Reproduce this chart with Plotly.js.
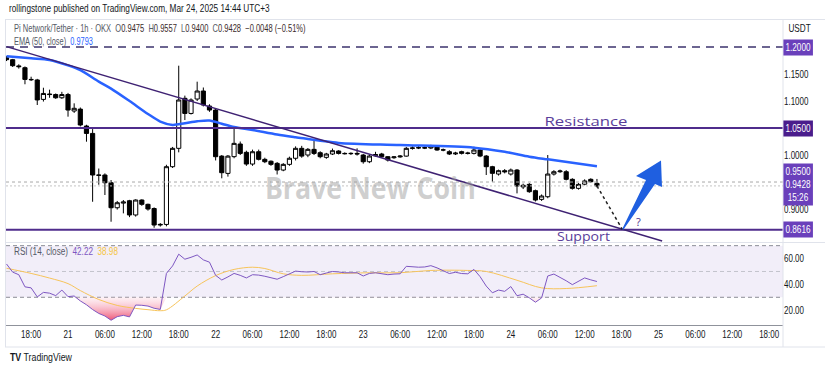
<!DOCTYPE html>
<html><head><meta charset="utf-8">
<script src="https://cdn.plot.ly/plotly-3.0.1.min.js"></script>
<style>html,body{margin:0;padding:0;background:#fff;}#chart{width:825px;height:370px;}</style>
</head><body><div id="chart"></div>
<script>
// ---------- DATA ----------
const times = [
'2025-03-20 14:00','2025-03-20 15:00','2025-03-20 16:00','2025-03-20 17:00','2025-03-20 18:00','2025-03-20 19:00','2025-03-20 20:00','2025-03-20 21:00','2025-03-20 22:00','2025-03-20 23:00',
'2025-03-21 00:00','2025-03-21 01:00','2025-03-21 02:00','2025-03-21 03:00','2025-03-21 04:00','2025-03-21 05:00','2025-03-21 06:00','2025-03-21 07:00','2025-03-21 08:00','2025-03-21 09:00',
'2025-03-21 10:00','2025-03-21 11:00','2025-03-21 12:00','2025-03-21 13:00','2025-03-21 14:00','2025-03-21 15:00','2025-03-21 16:00','2025-03-21 17:00','2025-03-21 18:00','2025-03-21 19:00',
'2025-03-21 20:00','2025-03-21 21:00','2025-03-21 22:00','2025-03-21 23:00',
'2025-03-22 00:00','2025-03-22 01:00','2025-03-22 02:00','2025-03-22 03:00','2025-03-22 04:00','2025-03-22 05:00','2025-03-22 06:00','2025-03-22 07:00','2025-03-22 08:00','2025-03-22 09:00',
'2025-03-22 10:00','2025-03-22 11:00','2025-03-22 12:00','2025-03-22 13:00','2025-03-22 14:00','2025-03-22 15:00','2025-03-22 16:00','2025-03-22 17:00','2025-03-22 18:00','2025-03-22 19:00',
'2025-03-22 20:00','2025-03-22 21:00','2025-03-22 22:00','2025-03-22 23:00',
'2025-03-23 00:00','2025-03-23 01:00','2025-03-23 02:00','2025-03-23 03:00','2025-03-23 04:00','2025-03-23 05:00','2025-03-23 06:00','2025-03-23 07:00','2025-03-23 08:00','2025-03-23 09:00',
'2025-03-23 10:00','2025-03-23 11:00','2025-03-23 12:00','2025-03-23 13:00','2025-03-23 14:00','2025-03-23 15:00','2025-03-23 16:00','2025-03-23 17:00','2025-03-23 18:00','2025-03-23 19:00',
'2025-03-23 20:00','2025-03-23 21:00','2025-03-23 22:00','2025-03-23 23:00',
'2025-03-24 00:00','2025-03-24 01:00','2025-03-24 02:00','2025-03-24 03:00','2025-03-24 04:00','2025-03-24 05:00','2025-03-24 06:00','2025-03-24 07:00','2025-03-24 08:00','2025-03-24 09:00',
'2025-03-24 10:00','2025-03-24 11:00','2025-03-24 12:00','2025-03-24 13:00','2025-03-24 14:00'
];
const open = [
1.1800,1.1765,1.1650,1.1617,1.1400,1.1390,1.1030,1.1130,1.1120,1.1060,
1.1120,1.0815,1.0850,1.0537,1.0400,0.9630,0.9630,0.9487,0.9024,0.9110,
0.9154,0.8890,0.9167,0.9087,0.9010,0.8704,0.8715,0.9784,1.0124,1.1050,
1.0770,1.1037,1.1185,1.0907,1.0833,0.9980,0.9660,0.9970,1.0204,1.0050,
0.9833,1.0061,0.9920,0.9885,0.9846,0.9722,0.9827,0.9940,1.0124,1.0000,
1.0105,1.0043,0.9957,1.0019,1.0074,1.0030,1.0025,1.0030,1.0000,0.9876,
0.9985,1.0019,0.9969,0.9950,0.9965,0.9980,1.0124,1.0130,1.0136,1.0130,
1.0154,1.0093,1.0062,1.0020,1.0062,1.0030,1.0031,1.0093,0.9981,0.9784,
0.9648,0.9710,0.9648,0.9722,0.9410,0.9457,0.9340,0.9179,0.9228,0.9648,
0.9691,0.9691,0.9550,0.9383,0.9460,0.9550,0.9475];
const high = [
1.1830,1.1780,1.1680,1.1640,1.1450,1.1410,1.1246,1.1210,1.1140,1.1170,
1.1150,1.0957,1.0880,1.0560,1.0480,0.9750,0.9660,0.9537,0.9150,0.9167,
0.9170,0.9180,0.9180,0.9100,0.9030,0.8740,0.9820,1.0150,1.1654,1.1100,
1.1050,1.1358,1.1250,1.0940,1.0870,1.0000,1.0000,1.0494,1.0250,1.0080,
1.0100,1.0100,0.9950,0.9900,0.9870,0.9850,0.9970,1.0160,1.0170,1.0130,
1.0278,1.0070,1.0040,1.0120,1.0090,1.0050,1.0050,1.0124,1.0020,1.0000,
1.0060,1.0040,0.9980,0.9980,1.0000,1.0150,1.0160,1.0170,1.0160,1.0190,
1.0170,1.0120,1.0090,1.0060,1.0080,1.0060,1.0154,1.0120,1.0000,0.9800,
0.9730,0.9740,0.9750,0.9740,0.9470,0.9480,0.9360,0.9270,1.0000,0.9720,
0.9730,0.9720,0.9570,0.9480,0.9550,0.9570,0.9557];
const low = [
1.1740,1.1630,1.1600,1.1310,1.1370,1.0926,1.0990,1.1060,1.1040,1.1040,
1.0710,1.0780,1.0530,1.0247,0.9135,0.9450,0.9260,0.8765,0.8990,0.8920,
0.8850,0.8860,0.9060,0.8970,0.8654,0.8675,0.8680,0.9760,1.0050,1.0648,
1.0750,1.1000,1.0900,1.0800,0.9900,0.9569,0.9600,0.9940,1.0000,0.9800,
0.9800,0.9900,0.9850,0.9800,0.9640,0.9700,0.9800,0.9900,0.9950,0.9960,
1.0000,0.9940,0.9930,1.0000,1.0010,1.0010,1.0000,0.9990,0.9840,0.9850,
0.9970,0.9950,0.9880,0.9930,0.9950,0.9970,1.0100,1.0110,1.0110,1.0110,
1.0080,1.0070,1.0000,1.0000,1.0010,1.0010,1.0010,0.9960,0.9630,0.9506,
0.9620,0.9660,0.9620,0.9290,0.9370,0.9300,0.9140,0.9150,0.9200,0.9620,
0.9670,0.9530,0.9360,0.9360,0.9440,0.9490,0.9400];
const close = [
1.1765,1.1654,1.1636,1.1400,1.1395,1.1020,1.1140,1.1120,1.1060,1.1120,
1.0833,1.0865,1.0556,1.0400,0.9630,0.9625,0.9487,0.9024,0.9117,0.9130,
0.8890,0.9167,0.9087,0.9000,0.8704,0.8715,0.9784,1.0124,1.1019,1.0770,
1.1019,1.1185,1.0926,1.0833,0.9969,0.9673,0.9980,1.0216,1.0030,0.9833,
1.0061,0.9920,0.9876,0.9827,0.9722,0.9827,0.9940,1.0124,0.9980,1.0105,
1.0030,0.9969,1.0019,1.0080,1.0030,1.0025,1.0030,1.0020,0.9876,0.9981,
1.0010,0.9969,0.9907,0.9965,0.9980,1.0124,1.0130,1.0136,1.0130,1.0154,
1.0093,1.0095,1.0019,1.0035,1.0031,1.0035,1.0093,0.9981,0.9784,0.9661,
0.9710,0.9690,0.9722,0.9426,0.9440,0.9321,0.9167,0.9241,0.9648,0.9691,
0.9704,0.9550,0.9383,0.9457,0.9520,0.9506,0.9428];

// EMA(50)
const emaTimes = ['2025-03-20 14:00','2025-03-20 18:00','2025-03-20 21:00','2025-03-21 00:00','2025-03-21 02:00','2025-03-21 05:00','2025-03-21 07:00','2025-03-21 10:00','2025-03-21 13:00','2025-03-21 15:00','2025-03-21 17:00','2025-03-21 19:00','2025-03-21 21:00','2025-03-21 23:00','2025-03-22 01:00','2025-03-22 03:00','2025-03-22 06:00','2025-03-22 10:00','2025-03-22 13:00','2025-03-22 20:00','2025-03-23 06:00','2025-03-23 18:00','2025-03-23 23:00','2025-03-24 03:00','2025-03-24 06:00','2025-03-24 14:00'];
const emaValues = [1.183,1.179,1.176,1.166,1.157,1.136,1.123,1.100,1.076,1.062,1.0558,1.059,1.0625,1.064,1.058,1.052,1.0465,1.038,1.033,1.0225,1.0186,1.0136,1.006,0.997,0.992,0.9793];

// RSI(14) per candle
const rsi = [
55.8,49.5,47.5,38.1,37.3,30.3,33.8,33.2,31.3,35.6,
30.5,31.0,27.2,24.2,20.5,17.5,15.5,12.2,15.0,16.0,
14.8,24.0,23.8,23.2,21.5,20.6,48.5,54.3,63.4,59.5,
61.0,62.8,59.0,57.2,47.0,43.4,45.8,48.5,47.0,45.0,
47.5,47.2,46.3,45.3,44.0,46.0,48.3,50.3,49.8,49.6,
50.0,47.5,48.8,50.0,49.6,49.0,49.0,49.0,46.5,48.5,
49.0,48.0,47.5,48.0,48.2,54.0,53.4,53.3,53.5,54.5,
52.8,50.8,48.4,49.4,48.4,48.2,51.6,46.0,38.7,33.5,
35.6,34.6,38.3,31.2,32.4,29.6,26.2,29.5,46.5,48.0,
45.7,42.8,39.8,42.6,45.0,43.5,42.22];
// RSI moving average
const rsiMaTimes = ['2025-03-20 14:00','2025-03-20 18:00','2025-03-20 21:00','2025-03-21 00:00','2025-03-21 02:00','2025-03-21 05:00','2025-03-21 08:00','2025-03-21 11:00','2025-03-21 13:00','2025-03-21 15:00','2025-03-21 16:00','2025-03-21 19:00','2025-03-21 21:00','2025-03-22 00:00','2025-03-22 03:00','2025-03-22 06:00','2025-03-22 08:00','2025-03-22 11:00','2025-03-22 14:00','2025-03-22 19:00','2025-03-23 01:00','2025-03-23 06:00','2025-03-23 11:00','2025-03-23 17:00','2025-03-23 20:00','2025-03-24 01:00','2025-03-24 05:00','2025-03-24 09:00','2025-03-24 14:00'];
const rsiMaValues = [52.5,48.5,44.9,40.6,35.2,28.3,23.7,21.4,20.4,19.6,20.3,31.0,38.7,46.8,51.6,53.3,52.3,48.2,47.0,48.2,49.0,49.0,50.8,50.8,50.0,43.2,37.3,36.8,38.98];

// Levels & drawings
const upperLevel = 1.2, resistance = 1.05, support = 0.8616, alertLevel = 0.95;
const rsiUpper = 70, rsiMid = 50, oversold = 30;
const trendTimes = ['2025-03-20 14:00','2025-03-25 00:36'];
const trendPrices = [1.2007, 0.8409];
const projTimes = ['2025-03-24 14:00','2025-03-24 18:10'];
const projPrices = [0.9428, 0.8616];

const tickVals = ['2025-03-20 18:00','2025-03-21 00:00','2025-03-21 06:00','2025-03-21 12:00','2025-03-21 18:00','2025-03-22 00:00','2025-03-22 06:00','2025-03-22 12:00','2025-03-22 18:00','2025-03-23 00:00','2025-03-23 06:00','2025-03-23 12:00','2025-03-23 18:00','2025-03-24 00:00','2025-03-24 06:00','2025-03-24 12:00','2025-03-24 18:00','2025-03-25 00:00','2025-03-25 06:00','2025-03-25 12:00','2025-03-25 18:00'];
const tickText = ['18:00','21','06:00','12:00','18:00','22','06:00','12:00','18:00','23','06:00','12:00','18:00','24','06:00','12:00','18:00','25','06:00','12:00','18:00'];
const priceTicks = [0.9, 1.0, 1.1, 1.15];
const priceTickText = ['0.9000','1.0000','1.1000','1.1500'];
const rsiTicks = [20, 40, 60];
const rsiTickText = ['20.00','40.00','60.00'];

// ---------- LAYOUT HELPERS ----------
const FONT = '"Liberation Sans", Arial, sans-serif';
const PL=6, PR=783, PT=20, PB=325;
const px = x => (x-PL)/(PR-PL);
const py = y => (PB-y)/(PB-PT);
const last = close.length - 1;

const traces = [
  {type:'candlestick', x:times, open:open, high:high, low:low, close:close,
   xaxis:'x', yaxis:'y', whiskerwidth:0, hoverinfo:'skip',
   increasing:{line:{color:'#000000', width:1}, fillcolor:'#ffffff'},
   decreasing:{line:{color:'#000000', width:1}, fillcolor:'#000000'}},
  {type:'scatter', mode:'lines', x:emaTimes, y:emaValues, xaxis:'x', yaxis:'y',
   line:{color:'#2962ff', width:2.5, shape:'spline', smoothing:0.8}, hoverinfo:'skip'},
  {type:'scatter', mode:'lines', x:times, y:times.map(()=>oversold), xaxis:'x', yaxis:'y2',
   line:{width:0, color:'rgba(0,0,0,0)'}, hoverinfo:'skip'},
  {type:'scatter', mode:'lines', x:times, y:rsi.map(v=>Math.min(v, oversold)), xaxis:'x', yaxis:'y2',
   fill:'tonexty', fillcolor:'rgba(242,54,69,0.4)',
   fillgradient:{type:'vertical', start:12, stop:oversold,
     colorscale:[[0,'rgba(236,64,100,0.9)'],[1,'rgba(250,200,215,0.25)']]},
   line:{width:0, color:'rgba(0,0,0,0)'}, hoverinfo:'skip'},
  {type:'scatter', mode:'lines', x:rsiMaTimes, y:rsiMaValues, xaxis:'x', yaxis:'y2',
   line:{color:'#f7c45a', width:1, shape:'spline'}, hoverinfo:'skip'},
  {type:'scatter', mode:'lines', x:times, y:rsi, xaxis:'x', yaxis:'y2',
   line:{color:'#7e57c2', width:1}, hoverinfo:'skip'}
];

const purple = '#4f2c8c';
const arrowPts = [[622,229.5],[646,180],[636,176],[661,160.5],[662,187],[655,184],[623.5,229.5]];
const shapes = [
  {type:'rect', xref:'paper', x0:0, x1:1, yref:'y2', y0:oversold, y1:rsiUpper, fillcolor:'rgba(126,87,194,0.1)', line:{width:0}, layer:'below'},
  {type:'line', xref:'paper', x0:0, x1:1, yref:'y2', y0:rsiUpper, y1:rsiUpper, line:{color:'#8a8d96', width:1, dash:'4px,3px'}, layer:'below'},
  {type:'line', xref:'paper', x0:0, x1:1, yref:'y2', y0:rsiMid, y1:rsiMid, line:{color:'#c3c3cc', width:1, dash:'4px,3px'}, layer:'below'},
  {type:'line', xref:'paper', x0:0, x1:1, yref:'y2', y0:oversold, y1:oversold, line:{color:'#8a8d96', width:1, dash:'4px,3px'}, layer:'below'},
  {type:'line', xref:'paper', x0:0, x1:1, yref:'y', y0:alertLevel, y1:alertLevel, line:{color:'#a9a9a9', width:1, dash:'3px,3px'}},
  {type:'line', xref:'paper', x0:0, x1:1, yref:'y', y0:close[last], y1:close[last], line:{color:'#c4c4c4', width:1, dash:'2px,2px'}},
  {type:'line', xref:'paper', x0:0, x1:1, yref:'y', y0:upperLevel, y1:upperLevel, line:{color:'#6c6591', width:2, dash:'8px,6px'}},
  {type:'line', xref:'paper', x0:0, x1:1, yref:'y', y0:resistance, y1:resistance, line:{color:purple, width:2}},
  {type:'line', xref:'paper', x0:0, x1:1, yref:'y', y0:support, y1:support, line:{color:purple, width:2}},
  {type:'line', xref:'x', yref:'y', x0:trendTimes[0], x1:trendTimes[1], y0:trendPrices[0], y1:trendPrices[1], line:{color:'#3f2273', width:1.5}},
  {type:'line', xref:'x', yref:'y', x0:projTimes[0], x1:projTimes[1], y0:projPrices[0], y1:projPrices[1], line:{color:'#222222', width:1.5, dash:'dot'}},
  {type:'path', xref:'paper', yref:'paper', fillcolor:'#1f5fe0', line:{width:0},
   path:'M'+arrowPts.map(p=>px(p[0])+','+py(p[1])).join(' L')+' Z'},
  {type:'line', xref:'paper', yref:'paper', x0:px(5), x1:px(825), y0:py(242.5), y1:py(242.5), line:{color:'#e0e3eb', width:1}},
  {type:'line', xref:'paper', yref:'paper', x0:px(5), x1:px(825), y0:py(19.5), y1:py(19.5), line:{color:'#e0e3eb', width:1}},
  {type:'line', xref:'paper', yref:'paper', x0:px(5.5), x1:px(5.5), y0:py(19.5), y1:py(347), line:{color:'#e0e3eb', width:1}},
  {type:'line', xref:'paper', yref:'paper', x0:px(783), x1:px(783), y0:py(19.5), y1:py(347), line:{color:'#e0e3eb', width:1}},
  {type:'line', xref:'paper', yref:'paper', x0:px(5), x1:px(825), y0:py(347), y1:py(347), line:{color:'#e0e3eb', width:1}}
];

const sp = '\u00a0\u00a0';
const val = v => v.toFixed(4);
const lbl = (s,c) => '<span style="color:'+c+'">'+s+'</span>';
const dark = '#3b2b2b', grey = '#555a66';
const legendLine = lbl('Pi Network/Tether · 1h · OKX', grey) + sp +
  lbl('O', grey) + lbl(val(open[last]), dark) + sp +
  lbl('H', grey) + lbl(val(high[last]), dark) + sp +
  lbl('L', grey) + lbl(val(low[last]), dark) + sp +
  lbl('C', grey) + lbl(val(close[last]), dark) + sp +
  lbl('−0.0048 (−0.51%)', dark);

const boxFont = {family:FONT, size:10, color:'#ffffff'};
function axisBox(text, yPix, color){
  return {xref:'paper', yref:'paper', x:1, y:py(yPix), xanchor:'left', yanchor:'middle', xshift:0,
    text:text, showarrow:false, bgcolor:color, font:boxFont, borderpad:2, align:'center'};
}
const annotations = [
  {xref:'paper', yref:'paper', x:px(7), y:py(8), xanchor:'left', yanchor:'middle', showarrow:false, align:'left',
   text:'rollingstone published on TradingView.com, Mar 24, 2025 14:44 UTC+3', font:{family:FONT, size:10, color:'#131722'}},
  {xref:'paper', yref:'paper', x:px(12), y:py(29), xanchor:'left', yanchor:'middle', showarrow:false, align:'left',
   text:legendLine, font:{family:FONT, size:10, color:dark}},
  {xref:'paper', yref:'paper', x:px(12), y:py(41), xanchor:'left', yanchor:'middle', showarrow:false, align:'left',
   text:lbl('EMA (50, close)', grey) + sp + lbl(emaValues[emaValues.length-1].toFixed(4), '#2962ff'), font:{family:FONT, size:10}},
  {xref:'paper', yref:'paper', x:px(12), y:py(251), xanchor:'left', yanchor:'middle', showarrow:false, align:'left',
   text:lbl('RSI (14, close)', grey) + sp + lbl(rsi[last].toFixed(2), '#7e57c2') + sp + lbl(rsiMaValues[rsiMaValues.length-1].toFixed(2), '#f5c542'), font:{family:FONT, size:10}},
  {xref:'paper', yref:'paper', x:px(799), y:py(29), xanchor:'center', yanchor:'middle', showarrow:false,
   text:'USDT', font:{family:FONT, size:10, color:'#131722'}},
  {xref:'paper', yref:'paper', x:px(370), y:py(187), xanchor:'center', yanchor:'middle', showarrow:false,
   text:'Brave New Coin', font:{family:'"Open Sans", sans-serif', size:30, weight:700, color:'rgba(160,160,160,0.5)'}},
  {xref:'paper', yref:'paper', x:px(586), y:py(121), xanchor:'center', yanchor:'middle', showarrow:false,
   text:'Resistance', font:{family:'"Open Sans", sans-serif', size:12.5, color:'#5a3d9a'}},
  {xref:'paper', yref:'paper', x:px(583), y:py(236.5), xanchor:'center', yanchor:'middle', showarrow:false,
   text:'Support', font:{family:'"Open Sans", sans-serif', size:12.5, color:'#5a3d9a'}},
  {xref:'paper', yref:'paper', x:px(638), y:py(221), xanchor:'center', yanchor:'middle', showarrow:false,
   text:'?', font:{family:'"Open Sans", sans-serif', size:11, color:'#4a2f8a'}},
  {xref:'paper', yref:'paper', x:px(8), y:py(357), xanchor:'left', yanchor:'middle', showarrow:false, align:'left',
   text:'<b>TV</b> TradingView', font:{family:FONT, size:10, color:'#131722'}},
  axisBox(upperLevel.toFixed(4), 47, '#6a40bb'),
  axisBox(resistance.toFixed(4), 128, '#4a1d8c'),
  axisBox(alertLevel.toFixed(4)+'<br>'+close[last].toFixed(4)+'<br>15:26', 184, '#6a40bb'),
  axisBox(support.toFixed(4), 229.5, '#6a40bb')
];
// target widths (px) for the horizontally squeezed screenshot text
const annTargets = {0:261, 1:292, 2:79, 3:104, 5:211, 6:83, 7:53, 9:62};

const layout = {
  width:825, height:370, margin:{l:PL, r:825-PR, t:PT, b:370-PB, pad:0},
  paper_bgcolor:'#ffffff', plot_bgcolor:'#ffffff', showlegend:false,
  font:{family:FONT, size:10, color:'#131722'},
  boxgap:0.25, boxgroupgap:0.1,
  xaxis:{type:'date', range:['2025-03-20 13:55','2025-03-25 20:15'], anchor:'y2',
    tickmode:'array', tickvals:tickVals, ticktext:tickText, tickfont:{family:FONT, size:10, color:'#131722'},
    showgrid:false, zeroline:false, showline:true, linecolor:'#8f929b', linewidth:1, ticks:'', ticklen:0,
    rangeslider:{visible:false}, fixedrange:true},
  yaxis:{domain:[0.272,1], range:[0.8389,1.25], side:'right', anchor:'x', tickmode:'array',
    tickvals:priceTicks, ticktext:priceTickText, tickfont:{family:FONT, size:10, color:'#131722'},
    showgrid:false, zeroline:false, showline:false, ticks:'', fixedrange:true},
  yaxis2:{domain:[0,0.269], range:[8.53,72.1], side:'right', anchor:'x', tickmode:'array',
    tickvals:rsiTicks, ticktext:rsiTickText, tickfont:{family:FONT, size:10, color:'#131722'},
    showgrid:false, zeroline:false, showline:false, ticks:'', fixedrange:true},
  shapes:shapes, annotations:annotations
};

// horizontal squeeze about the text's anchor point (the screenshot's text is narrow)
function squeezeX(el, k){
  if (!(k > 0)) return;
  const x0 = parseFloat(el.getAttribute('x') || '0');
  const prev = el.getAttribute('transform') || '';
  el.setAttribute('transform', (prev + ' translate(' + (x0*(1-k)).toFixed(2) + ',0) scale(' + k.toFixed(4) + ',1)').trim());
}
// squeeze a whole label box (background + text) about its left edge
function squeezeBox(g, k){
  const bg = g.querySelector('rect.bg');
  if (!bg) return;
  const holder = bg.parentNode;
  const prev = holder.getAttribute('transform') || '';
  holder.setAttribute('transform', (prev + ' scale(' + k + ',1)').trim());
}

Plotly.newPlot('chart', traces, layout, {staticPlot:true, displayModeBar:false}).then(gd => {
  gd.querySelectorAll('.xtick text, .ytick text, .y2tick text').forEach(t => squeezeX(t, 0.8));
  gd.querySelectorAll('g.annotation').forEach(g => {
    const i = +g.getAttribute('data-index');
    const t = g.querySelector('text.annotation-text');
    if (!t) return;
    if (annTargets[i] !== undefined) {
      const L = t.getComputedTextLength();
      if (L > 0) squeezeX(t, annTargets[i] / L);
    } else if (i === 4) {
      squeezeX(t, 0.82);
    } else if (i >= 10) {
      squeezeBox(g, 0.82);
    }
  });
});
</script></body></html>
